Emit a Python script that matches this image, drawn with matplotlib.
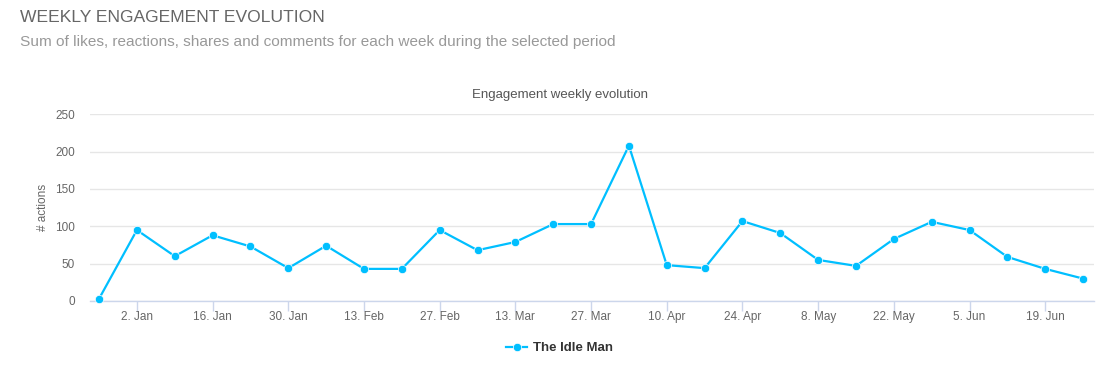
import datetime as dt
import matplotlib
matplotlib.use("Agg")
import matplotlib.pyplot as plt
import matplotlib.dates as mdates
from matplotlib.ticker import FuncFormatter

plt.rcParams['font.family'] = ['Liberation Sans', 'DejaVu Sans']

# data: weekly engagement (week starting Monday)
start = dt.date(2016, 12, 26)
actions = [3, 95, 60, 88, 73, 44, 74, 43, 43, 95, 68, 79, 103, 103, 208,
           48, 44, 107, 91, 55, 47, 83, 106, 95, 59, 43, 30]
weeks = [start + dt.timedelta(weeks=i) for i in range(len(actions))]
series_name = "The Idle Man"
yticks = [0, 50, 100, 150, 200, 250]

line_col = '#00bfff'
grid_col = '#e6e6e6'
axis_col = '#ccd6eb'
label_col = '#666666'

fig = plt.figure(figsize=(11.19, 3.91), dpi=100)
ax = fig.add_axes([0.0804, 0.2302, 0.8973, 0.4775])

ax.plot(weeks, actions, color=line_col, lw=1.6, marker='o', ms=6,
        mec='white', mew=0.5, label=series_name, zorder=3, clip_on=False)

x0 = mdates.date2num(weeks[0]) - 0.24 * 7
x1 = mdates.date2num(weeks[-1]) + 0.29 * 7
ax.set_xlim(x0, x1)
ax.set_ylim(0, 250)
ax.set_yticks(yticks)

tick_dates = weeks[1::2]
ax.set_xticks([mdates.date2num(d) for d in tick_dates])
ax.xaxis.set_major_formatter(FuncFormatter(
    lambda v, p: "{}. {}".format(mdates.num2date(v).day, mdates.num2date(v).strftime('%b'))))

ax.grid(axis='y', color=grid_col, lw=1)
ax.set_axisbelow(True)
for s in ['top', 'right', 'left']:
    ax.spines[s].set_visible(False)
ax.spines['bottom'].set_color(axis_col)
ax.spines['bottom'].set_linewidth(1)
ax.tick_params(axis='x', colors=axis_col, length=7, width=1, pad=0,
               labelcolor=label_col, labelsize=8.5)
ax.tick_params(axis='y', length=0, pad=11, labelcolor=label_col, labelsize=8.5)

ax.set_ylabel("# actions", color=label_col, fontsize=8.5, labelpad=4)

fig.text(0.5, 1 - 95 / 391, "Engagement weekly evolution", color='#555555',
         fontsize=9.5, ha='center', va='center')

handles, labels = ax.get_legend_handles_labels()
leg = fig.legend(handles, labels, loc='center', bbox_to_anchor=(0.5, 1 - 348 / 391),
                 frameon=False, handlelength=1.6, handletextpad=0.4,
                 prop={'weight': 'bold', 'size': 9.5})
for t in leg.get_texts():
    t.set_color('#333333')

fig.text(20 / 1119, 1 - 17 / 391, "WEEKLY ENGAGEMENT EVOLUTION", fontsize=12.6,
         color='#666666', va='center', ha='left')
fig.text(20 / 1119, 1 - 42 / 391,
         "Sum of likes, reactions, shares and comments for each week during the selected period",
         fontsize=11.1, color='#999999', va='center', ha='left')

fig.savefig("out.png", dpi=100, facecolor='white')
